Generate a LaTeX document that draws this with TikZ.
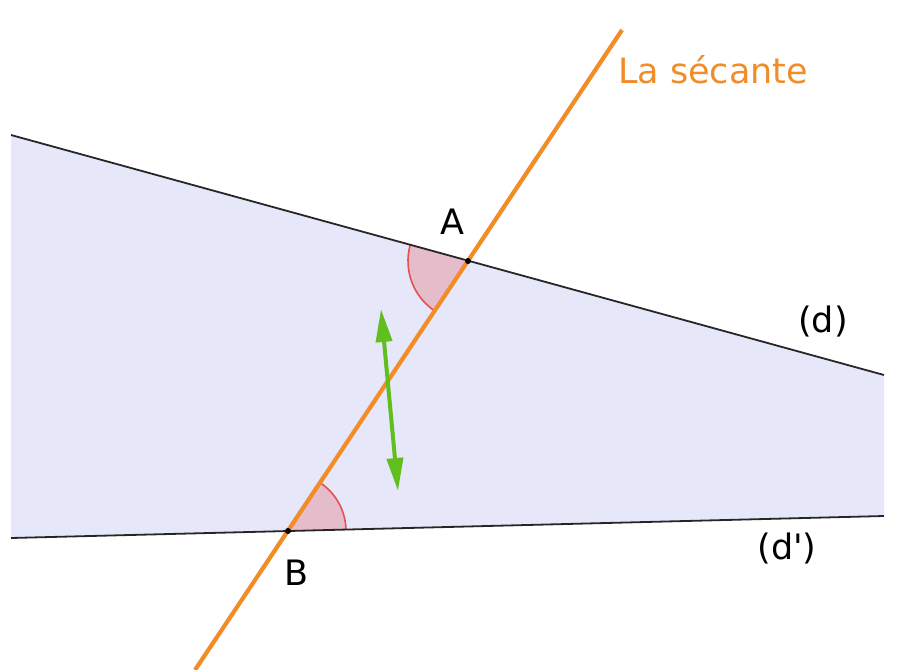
\documentclass[tikz,border=0pt]{standalone}
\usepackage{fontspec}
\setmainfont{DejaVu Sans}
\usetikzlibrary{arrows.meta,calc}
\definecolor{lav}{RGB}{230,232,250}
\definecolor{secorange}{RGB}{242,140,40}
\definecolor{angfill}{RGB}{228,188,202}
\definecolor{angred}{RGB}{232,80,80}
\definecolor{arrgreen}{RGB}{96,190,30}
\tikzset{
  lbl/.style={font=\fontsize{35}{40}\selectfont, inner sep=0pt},
  dline/.style={draw=black!85, line width=1.8pt},
  secline/.style={draw=secorange, line width=4.2pt},
  angsector/.style={fill=angfill},
  angarc/.style={draw=angred, line width=1.6pt},
  pt/.style={circle, fill=black, inner sep=0pt, minimum size=6pt},
  dblarrow/.style={draw=arrgreen, line width=4pt, {Triangle[length=33pt,width=16pt]}-{Triangle[length=33pt,width=16pt]}}
}
\begin{document}
\begin{tikzpicture}[x=1pt,y=-1pt]
\useasboundingbox (0,0) rectangle (922,670);
% line ends
\coordinate (dL) at (11,135);
\coordinate (dR) at (884,375);
\coordinate (dpL) at (11,538);
\coordinate (dpR) at (884,516);
\coordinate (A) at (468,261);
\coordinate (B) at (288,531);
\coordinate (sT) at (622,30);
\coordinate (sB) at (195,670);
% band
\fill[lav] (dL) -- (dR) -- (dpR) -- (dpL) -- cycle;
% angle sectors
\fill[angsector] (A) -- ++(164.63:60pt) arc[start angle=164.63, end angle=236.31, radius=60pt] -- cycle;
\fill[angsector] (B) -- ++(1.44:58pt) arc[start angle=1.44, end angle=56.31, radius=58pt] -- cycle;
\draw[angarc] (A) ++(164.63:60pt) arc[start angle=164.63, end angle=236.31, radius=60pt];
\draw[angarc] (B) ++(1.44:58pt) arc[start angle=1.44, end angle=56.31, radius=58pt];
% lines
\draw[dline] (dL) -- (dR);
\draw[dline] (dpL) -- (dpR);
\draw[secline] (sB) -- (sT);
% points
\node[pt] (Apt) at (A) {};
\node[pt] (Bpt) at (B) {};
% green arrow
\coordinate (gT) at (381,309);
\coordinate (gB) at (398,491);
\draw[dblarrow] (gT) -- (gB);
% labels
\node[lbl] (lA) at (452,222) {A};
\node[lbl] (lB) at (297,573) {B};
\node[lbl] (ld) at (823,322) {(d)};
\node[lbl] (ldp) at (787,549) {(d\textquotesingle)};
\node[lbl, text=secorange] (lsec) at (713,70) {La sécante};
\end{tikzpicture}
\end{document}
